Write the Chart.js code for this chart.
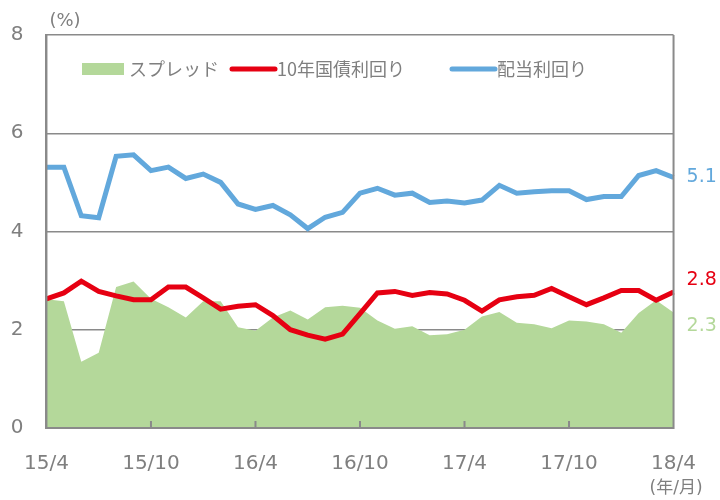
<!DOCTYPE html>
<html>
<head>
<meta charset="utf-8">
<script src="https://cdn.jsdelivr.net/npm/chart.js@4"></script>
<style>
  body { margin: 0; background: #fff; }
</style>
</head>
<body>
<canvas id="myChart" width="720" height="500"></canvas>
<script>
const months = [
    '15/4', '15/5', '15/6', '15/7', '15/8', '15/9', '15/10', '15/11', '15/12',
    '16/1', '16/2', '16/3', '16/4', '16/5', '16/6', '16/7', '16/8', '16/9', '16/10', '16/11', '16/12',
    '17/1', '17/2', '17/3', '17/4', '17/5', '17/6', '17/7', '17/8', '17/9', '17/10', '17/11', '17/12',
    '18/1', '18/2', '18/3', '18/4'
];
const spread = [
    2.62, 2.58, 1.35, 1.53, 2.87, 2.98, 2.63, 2.46, 2.25, 2.58, 2.58, 2.05, 1.98,
    2.25, 2.39, 2.21, 2.46, 2.49, 2.45, 2.19, 2.02, 2.07, 1.89, 1.91, 2.00,
    2.27, 2.36, 2.14, 2.11, 2.03, 2.19, 2.17, 2.11, 1.94, 2.34, 2.60, 2.35
];
const bondYield = [
    2.63, 2.75, 2.99, 2.78, 2.69, 2.61, 2.61, 2.87, 2.87, 2.65, 2.42, 2.48, 2.51,
    2.29, 2.00, 1.89, 1.81, 1.91, 2.33, 2.75, 2.78, 2.70, 2.76, 2.73, 2.60,
    2.38, 2.61, 2.67, 2.70, 2.84, 2.67, 2.51, 2.65, 2.80, 2.80, 2.60, 2.77
];
const dividendYield = [
    5.31, 5.31, 4.32, 4.28, 5.53, 5.56, 5.24, 5.31, 5.08, 5.17, 5.00, 4.56, 4.45,
    4.53, 4.34, 4.06, 4.29, 4.39, 4.78, 4.88, 4.74, 4.78, 4.59, 4.62, 4.58,
    4.64, 4.94, 4.78, 4.81, 4.83, 4.83, 4.65, 4.71, 4.71, 5.14, 5.24, 5.10
];
const seriesNames = ['スプレッド', '10年国債利回り', '配当利回り'];
const endLabels = ['2.3', '2.8', '5.1'];

const gray = '#8a8a8a';
const textGray = '#7f7f7f';
const green = '#b4d89a';
const red = '#e60012';
const blue = '#62a8dc';

Chart.defaults.font.family = "'DejaVu Sans', 'Noto Sans CJK JP', sans-serif";
Chart.defaults.color = textGray;

// frame, inward ticks, legend inside plot, end labels, unit texts
const extras = {
    id: 'extras',
    afterDraw(chart) {
        const ctx = chart.ctx;
        const area = chart.chartArea;
        const x = chart.scales.x;
        const y = chart.scales.y;
        ctx.save();

        ctx.strokeStyle = gray;
        ctx.lineWidth = 2;
        ctx.beginPath();
        ctx.moveTo(area.left, area.top);
        ctx.lineTo(area.left, area.bottom);
        ctx.lineTo(area.right, area.bottom);
        ctx.lineTo(area.right, area.top);
        for (let i = 0; i < months.length; i += 6) {
            const px = x.getPixelForValue(i);
            ctx.moveTo(px, area.bottom);
            ctx.lineTo(px, area.bottom - 7);
        }
        ctx.stroke();

        ctx.fillStyle = textGray;
        ctx.textBaseline = 'middle';
        ctx.font = "18px 'DejaVu Sans', 'Noto Sans CJK JP', sans-serif";
        ctx.textAlign = 'left';
        ctx.fillText('(%)', area.left + 3, 21);
        ctx.font = "17px 'DejaVu Sans', 'Noto Sans CJK JP', sans-serif";
        ctx.textAlign = 'right';
        ctx.fillText('(年/月)', area.right + 29, 489);

        // legend
        const legendX = [82, 230, 450];
        const legendY = area.top + 34;
        ctx.font = "18px 'Noto Sans CJK JP', sans-serif";
        ctx.textAlign = 'left';
        chart.data.datasets.forEach((ds, i) => {
            const lx = legendX[i];
            if (ds.fill) {
                ctx.fillStyle = ds.backgroundColor;
                ctx.fillRect(lx, legendY - 6, 42, 12);
            } else {
                ctx.strokeStyle = ds.borderColor;
                ctx.lineWidth = 5;
                ctx.lineCap = 'round';
                ctx.beginPath();
                ctx.moveTo(lx + 2, legendY);
                ctx.lineTo(lx + 45, legendY);
                ctx.stroke();
            }
            ctx.fillStyle = textGray;
            ctx.fillText(ds.label, lx + 47, legendY);
        });

        // values at the right end
        const dy = [11, -10, 0];
        ctx.font = "19px 'DejaVu Sans', sans-serif";
        chart.data.datasets.forEach((ds, i) => {
            ctx.fillStyle = ds.fill ? ds.backgroundColor : ds.borderColor;
            ctx.fillText(endLabels[i], area.right + 13, y.getPixelForValue(parseFloat(endLabels[i])) + dy[i]);
        });
        ctx.restore();
    }
};

const ctx = document.getElementById('myChart');

const myChart = new Chart(ctx, {
    type: 'line',
    data: {
        labels: months,
        datasets: [{
            label: seriesNames[0],
            data: spread,
            backgroundColor: green,
            borderWidth: 0,
            fill: 'origin',
            pointRadius: 0,
            order: 3
        }, {
            label: seriesNames[1],
            data: bondYield,
            borderColor: red,
            borderWidth: 5,
            fill: false,
            pointRadius: 0,
            order: 1
        }, {
            label: seriesNames[2],
            data: dividendYield,
            borderColor: blue,
            borderWidth: 5,
            fill: false,
            pointRadius: 0,
            order: 2
        }]
    },
    options: {
        responsive: false,
        animation: false,
        layout: {
            padding: { left: 8, right: 42, top: 34, bottom: 23 }
        },
        scales: {
            x: {
                grid: { display: false, drawTicks: false },
                border: { display: true, color: gray, width: 2 },
                afterFit: (scale) => { scale.height = 49; },
                ticks: {
                    autoSkip: false,
                    maxRotation: 0,
                    padding: 24,
                    font: { size: 20 },
                    color: textGray,
                    callback: (val, i) => (i % 6 === 0 ? months[i] : '')
                }
            },
            y: {
                min: 0,
                max: 8,
                grid: { color: gray, lineWidth: 1.5, drawTicks: false },
                border: { display: true, color: gray, width: 2 },
                afterFit: (scale) => { scale.width = 36; },
                ticks: {
                    stepSize: 2,
                    padding: 23,
                    font: { size: 20 },
                    color: textGray
                }
            }
        },
        plugins: {
            legend: { display: false },
            tooltip: { enabled: false }
        }
    },
    plugins: [extras]
});
</script>
</body>
</html>
